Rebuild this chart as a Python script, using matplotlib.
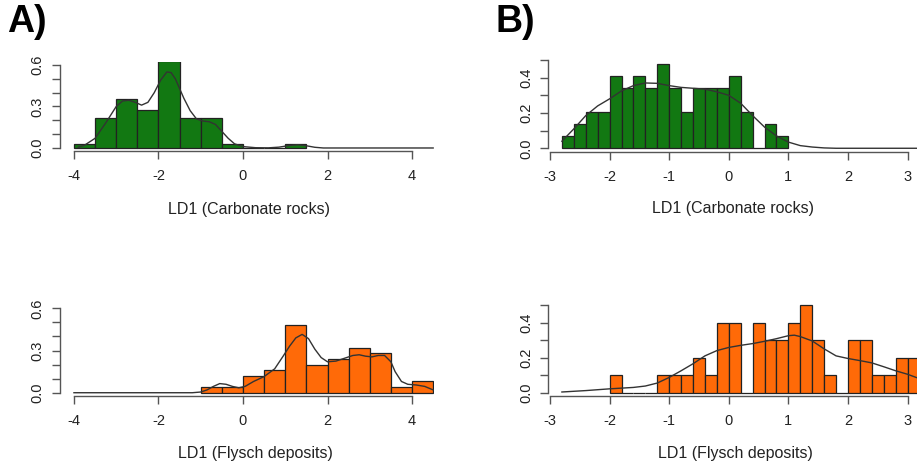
import matplotlib
matplotlib.use("Agg")
import matplotlib.pyplot as plt
from matplotlib.ticker import FixedLocator

plt.rcParams['font.family'] = ['Liberation Sans', 'DejaVu Sans']

# histogram densities
a_carb_left = [-4.0, -3.5, -3.0, -2.5, -2.0, -1.5, -1.0, -0.5, 0.0, 0.5, 1.0]
a_carb_dens = [0.027, 0.219, 0.356, 0.274, 0.630, 0.219, 0.219, 0.027, 0.0, 0.0, 0.027]
a_flys_left = [-1.0, -0.5, 0.0, 0.5, 1.0, 1.5, 2.0, 2.5, 3.0, 3.5, 4.0]
a_flys_dens = [0.04, 0.04, 0.12, 0.16, 0.48, 0.20, 0.24, 0.32, 0.28, 0.04, 0.08]

b_carb_left = [-2.8, -2.6, -2.4, -2.2, -2.0, -1.8, -1.6, -1.4, -1.2, -1.0,
               -0.8, -0.6, -0.4, -0.2, 0.0, 0.2, 0.4, 0.6, 0.8]
b_carb_dens = [0.068, 0.137, 0.205, 0.205, 0.411, 0.342, 0.411, 0.342, 0.479, 0.342,
               0.205, 0.342, 0.342, 0.342, 0.411, 0.205, 0.0, 0.137, 0.068]
b_flys_left = [-2.0, -1.8, -1.6, -1.4, -1.2, -1.0, -0.8, -0.6, -0.4, -0.2, 0.0, 0.2,
               0.4, 0.6, 0.8, 1.0, 1.2, 1.4, 1.6, 1.8, 2.0, 2.2, 2.4, 2.6, 2.8, 3.0]
b_flys_dens = [0.1, 0.0, 0.0, 0.0, 0.1, 0.1, 0.1, 0.2, 0.1, 0.4, 0.4, 0.0,
               0.4, 0.3, 0.3, 0.4, 0.5, 0.3, 0.1, 0.0, 0.3, 0.3, 0.1, 0.1, 0.2, 0.2]

# density curves
a_carb_kx = [-3.9, -3.75, -3.5, -3.25, -3.0, -2.85, -2.7, -2.55, -2.4, -2.25, -2.1, -1.95,
             -1.8, -1.7, -1.6, -1.5, -1.4, -1.25, -1.1, -0.95, -0.8, -0.65, -0.5, -0.35,
             -0.2, 0.0, 0.3, 0.6, 0.85, 1.1, 1.3, 1.5, 1.7, 1.9, 4.5]
a_carb_ky = [0.005, 0.02, 0.07, 0.18, 0.30, 0.34, 0.345, 0.33, 0.31, 0.33, 0.40, 0.49,
             0.55, 0.545, 0.50, 0.43, 0.36, 0.27, 0.21, 0.195, 0.19, 0.17, 0.12, 0.07,
             0.03, 0.01, 0.002, 0.001, 0.006, 0.018, 0.024, 0.016, 0.005, 0.0, 0.0]
a_flys_kx = [-4.0, -1.2, -1.0, -0.85, -0.7, -0.55, -0.4, -0.25, -0.1, 0.05, 0.25, 0.5,
             0.75, 0.95, 1.1, 1.25, 1.4, 1.55, 1.7, 1.85, 2.0, 2.2, 2.4, 2.6, 2.75, 2.9,
             3.05, 3.2, 3.35, 3.5, 3.6, 3.75, 3.9, 4.1, 4.3, 4.5]
a_flys_ky = [0.0, 0.0, 0.005, 0.02, 0.045, 0.065, 0.06, 0.045, 0.035, 0.045, 0.08, 0.115,
             0.17, 0.26, 0.33, 0.39, 0.415, 0.385, 0.31, 0.25, 0.22, 0.225, 0.245, 0.265,
             0.27, 0.26, 0.255, 0.265, 0.265, 0.22, 0.15, 0.08, 0.06, 0.055, 0.045, 0.02]
b_carb_kx = [-2.8, -2.6, -2.4, -2.2, -2.0, -1.8, -1.6, -1.4, -1.2, -1.0, -0.8, -0.6,
             -0.4, -0.2, 0.0, 0.2, 0.4, 0.6, 0.8, 1.0, 1.2, 1.4, 1.6, 1.8, 3.2]
b_carb_ky = [0.04, 0.11, 0.185, 0.24, 0.28, 0.325, 0.355, 0.37, 0.368, 0.355, 0.345, 0.34,
             0.335, 0.32, 0.30, 0.255, 0.185, 0.12, 0.07, 0.035, 0.015, 0.007, 0.002, 0.0, 0.0]
b_flys_kx = [-2.8, -2.4, -2.0, -1.6, -1.4, -1.2, -1.0, -0.8, -0.6, -0.4, -0.2, 0.0, 0.2,
             0.4, 0.6, 0.8, 1.0, 1.1, 1.2, 1.4, 1.6, 1.8, 2.0, 2.2, 2.4, 2.6, 2.8, 3.0, 3.2]
b_flys_ky = [0.004, 0.012, 0.022, 0.03, 0.038, 0.055, 0.087, 0.125, 0.165, 0.21, 0.24,
             0.258, 0.27, 0.28, 0.293, 0.308, 0.325, 0.328, 0.32, 0.295, 0.25, 0.21, 0.195,
             0.183, 0.17, 0.148, 0.125, 0.105, 0.08]

W, H = 917, 469
green = '#127812'
orange = '#ff6a08'
axcol = '#555555'

fig = plt.figure(figsize=(W / 100, H / 100), dpi=100)


def panel(box, xlim, ylim, left, dens, width, kx, ky, color, xt, yt_major, yt_minor):
    l, t, r, b = box
    ax = fig.add_axes([l / W, 1 - b / H, (r - l) / W, (b - t) / H])
    ax.bar(left, dens, width=width, align='edge', color=color, edgecolor='#222222', linewidth=0.9)
    ax.plot(kx, ky, color='#333333', lw=1.0)
    ax.set_xlim(*xlim)
    ax.set_ylim(*ylim)
    for s in ['top', 'right']:
        ax.spines[s].set_visible(False)
    ax.spines['left'].set_bounds(yt_major[0], max(yt_major[-1], yt_minor[-1]))
    ax.spines['bottom'].set_bounds(xt[0], xt[-1])
    for s in ['left', 'bottom']:
        ax.spines[s].set_color(axcol)
        ax.spines[s].set_linewidth(1.0)
    ax.set_xticks(xt)
    ax.set_xticklabels([str(v) for v in xt])
    ax.yaxis.set_major_locator(FixedLocator(yt_major))
    ax.yaxis.set_minor_locator(FixedLocator(yt_minor))
    ax.set_yticklabels(['%.1f' % v for v in yt_major], rotation=90, va='center')
    ax.tick_params(axis='both', which='both', length=6, width=1.0, color=axcol,
                   labelsize=10.5, labelcolor='#222222', direction='out')
    ax.tick_params(axis='x', pad=7)
    ax.tick_params(axis='y', pad=5)
    return ax


panel((60, 61.7, 434, 151.3), (-4.33, 4.52), (-0.024, 0.624), a_carb_left, a_carb_dens, 0.5,
      a_carb_kx, a_carb_ky, green, [-4, -2, 0, 2, 4], [0.0, 0.3, 0.6], [0.1, 0.2, 0.4, 0.5])
panel((60, 305.0, 434, 396.1), (-4.33, 4.52), (-0.024, 0.624), a_flys_left, a_flys_dens, 0.5,
      a_flys_kx, a_flys_ky, orange, [-4, -2, 0, 2, 4], [0.0, 0.3, 0.6], [0.1, 0.2, 0.4, 0.5])
panel((548.2, 56.5, 917.7, 151.8), (-3.03, 3.17), (-0.02, 0.52), b_carb_left, b_carb_dens, 0.2,
      b_carb_kx, b_carb_ky, green, [-3, -2, -1, 0, 1, 2, 3], [0.0, 0.2, 0.4], [0.1, 0.3, 0.5])
panel((548.2, 301.5, 917.7, 396.2), (-3.03, 3.17), (-0.02, 0.52), b_flys_left, b_flys_dens, 0.2,
      b_flys_kx, b_flys_ky, orange, [-3, -2, -1, 0, 1, 2, 3], [0.0, 0.2, 0.4], [0.1, 0.3, 0.5])

# axis titles
fig.text(249 / W, 1 - 209 / H, 'LD1 (Carbonate rocks)', ha='center', va='center', fontsize=11.5, color='#222222')
fig.text(255 / W, 1 - 453 / H, 'LD1 (Flysch deposits)', ha='center', va='center', fontsize=11.5, color='#222222')
fig.text(733 / W, 1 - 208 / H, 'LD1 (Carbonate rocks)', ha='center', va='center', fontsize=11.5, color='#222222')
fig.text(735 / W, 1 - 453 / H, 'LD1 (Flysch deposits)', ha='center', va='center', fontsize=11.5, color='#222222')

# panel letters
fig.text(7 / W, 1 - 22 / H, 'A)', ha='left', va='center', fontsize=27, fontweight='bold')
fig.text(496 / W, 1 - 22 / H, 'B)', ha='left', va='center', fontsize=27, fontweight='bold')

fig.savefig('out.png', dpi=100)
